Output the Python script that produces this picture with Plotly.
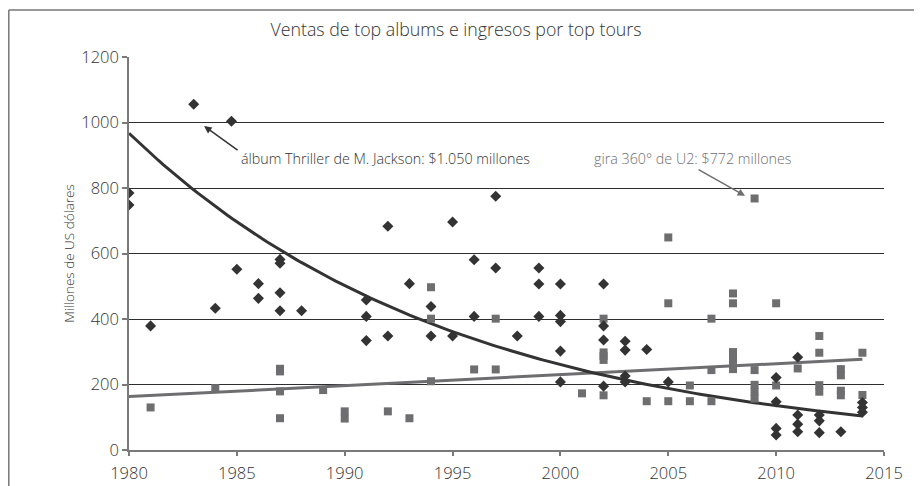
import numpy as np
import plotly.graph_objects as go

# --- data ---
album_years = [1980, 1980, 1981, 1983, 1984, 1984.75, 1985, 1986, 1986, 1987, 1987, 1987, 1987, 1988,
               1991, 1991, 1991, 1992, 1992, 1993, 1994, 1994, 1995, 1995, 1996, 1996, 1997, 1997, 1998,
               1999, 1999, 1999, 2000, 2000, 2000, 2000, 2000, 2002, 2002, 2002, 2002,
               2003, 2003, 2003, 2003, 2004, 2005, 2010, 2010, 2010, 2010, 2011, 2011, 2011, 2011,
               2012, 2012, 2012, 2013, 2014, 2014, 2014]
album_sales = [785, 748, 379, 1056, 433, 1004, 552, 508, 463, 582, 570, 480, 425, 425,
               458, 408, 334, 683, 348, 508, 438, 348, 696, 348, 581, 408, 775, 556, 348,
               556, 507, 408, 507, 411, 392, 302, 208, 507, 379, 336, 195,
               332, 305, 226, 208, 307, 208, 221, 147, 66, 46, 283, 107, 79, 56,
               107, 89, 53, 56, 145, 130, 115]

tour_years = [1981, 1984, 1987, 1987, 1987, 1987, 1989, 1990, 1990, 1992, 1993, 1994, 1994, 1994,
              1996, 1997, 1997, 2001, 2002, 2002, 2002, 2002, 2002, 2004, 2005, 2005, 2005,
              2006, 2006, 2007, 2007, 2007, 2008, 2008, 2008, 2008, 2008, 2008,
              2009, 2009, 2009, 2009, 2009, 2010, 2010, 2011, 2012, 2012, 2012, 2012,
              2013, 2013, 2013, 2013, 2014, 2014]
tour_revenue = [130, 189, 248, 240, 179, 97, 183, 118, 96, 118, 97, 497, 401, 210,
                246, 401, 246, 173, 401, 298, 287, 275, 167, 149, 649, 448, 149,
                197, 149, 401, 244, 149, 478, 448, 299, 282, 265, 247,
                768, 244, 199, 178, 157, 448, 197, 249, 348, 297, 198, 178,
                247, 228, 181, 167, 297, 168]

# trendline ends (Excel exponential / linear trendlines)
trend_years = [1980, 2014]
album_trend_ends = [967, 104]
tour_trend_ends = [163, 277]

title_text = "Ventas de top albums e ingresos por top tours"
y_title = "Millones de US dólares"
note_album = "álbum Thriller de M. Jackson: $1.050 millones"
note_tour = "gira 360° de U2: $772 millones"

# exponential trend y = a*exp(b*(x-x0)) through the read-off ends
x0, x1 = trend_years
a = album_trend_ends[0]
b = np.log(album_trend_ends[1] / album_trend_ends[0]) / (x1 - x0)
trend_x = np.linspace(x0, x1, 150)
exp_trend = a * np.exp(b * (trend_x - x0))

DARK = "#333333"
GRAY = "#6e6e70"
FONT = "Open Sans"
WT = 300

fig = go.Figure()
fig.add_trace(go.Scatter(x=trend_years, y=tour_trend_ends, mode="lines",
                         line=dict(color=GRAY, width=3), hoverinfo="skip"))
fig.add_trace(go.Scatter(x=trend_x, y=exp_trend, mode="lines",
                         line=dict(color=DARK, width=3), hoverinfo="skip"))
fig.add_trace(go.Scatter(x=tour_years, y=tour_revenue, mode="markers",
                         marker=dict(symbol="square", size=8, color=GRAY)))
fig.add_trace(go.Scatter(x=album_years, y=album_sales, mode="markers",
                         marker=dict(symbol="diamond", size=8.5, color=DARK)))

# page has an 8px body margin -> figure placed at (8, 8);
# plot area at page (129..884, 57..450)
W, H = 906, 478
L, R, T, B = 121, 30, 49, 36
PW, PH = W - L - R, H - T - B

fig.update_layout(
    width=W, height=H,
    margin=dict(l=L, r=R, t=T, b=B, autoexpand=False),
    paper_bgcolor="white", plot_bgcolor="white",
    showlegend=False,
    font=dict(family=FONT, color=DARK, size=16, weight=WT),
    title=dict(text=title_text, x=448 / W, xanchor="center", xref="container",
               y=1 - 21.5 / H, yanchor="middle", yref="container",
               font=dict(family=FONT, size=17.8, color=DARK, weight=WT)),
)
fig.update_xaxes(range=[1980, 2015], dtick=5, tick0=1980, showgrid=False, automargin=False,
                 showline=True, linecolor="#7a7a7a", linewidth=1.5,
                 ticks="outside", ticklen=4, tickcolor="#7a7a7a", tickwidth=1.5,
                 ticklabelstandoff=3,
                 tickfont=dict(size=16.5, color=DARK, weight=WT), zeroline=False)
fig.update_yaxes(range=[0, 1200], dtick=200, showgrid=True, gridcolor="#2e2e2e", gridwidth=1,
                 automargin=False,
                 showline=True, linecolor="#7a7a7a", linewidth=1.5,
                 ticks="outside", ticklen=5, tickcolor="#7a7a7a", tickwidth=1.5,
                 tickfont=dict(size=16.5, color=DARK, weight=WT), zeroline=False,
                 title=dict(text=y_title, font=dict(size=13.5, color=DARK, weight=WT), standoff=4))

# outer frame (top and left edges; right/bottom lie outside the picture)
fx = (0.8 - L) / PW
fy = (H - B - 2) / PH
fig.add_shape(type="line", xref="paper", yref="paper", x0=fx, x1=(W - L) / PW, y0=fy, y1=fy,
              line=dict(color="#777777", width=1.5), layer="above")
fig.add_shape(type="line", xref="paper", yref="paper", x0=fx, x1=fx, y0=fy, y1=-B / PH,
              line=dict(color="#777777", width=1.5), layer="above")

# annotations
fig.add_annotation(x=1983.48, y=989, ax=35, ay=25, showarrow=True, text="",
                   arrowhead=2, arrowsize=1, arrowwidth=1.5, arrowcolor=DARK)
fig.add_annotation(x=1985.1, y=891, text=note_album, showarrow=False, xanchor="left",
                   font=dict(size=14.3, color=DARK, weight=WT))
fig.add_annotation(x=2008.56, y=776, ax=-48, ay=-27, showarrow=True, text="",
                   arrowhead=2, arrowsize=1, arrowwidth=1.5, arrowcolor=GRAY)
fig.add_annotation(x=2001.47, y=889, text=note_tour, showarrow=False, xanchor="left",
                   font=dict(size=14.3, color=GRAY, weight=WT))

fig.write_html("out.html")
